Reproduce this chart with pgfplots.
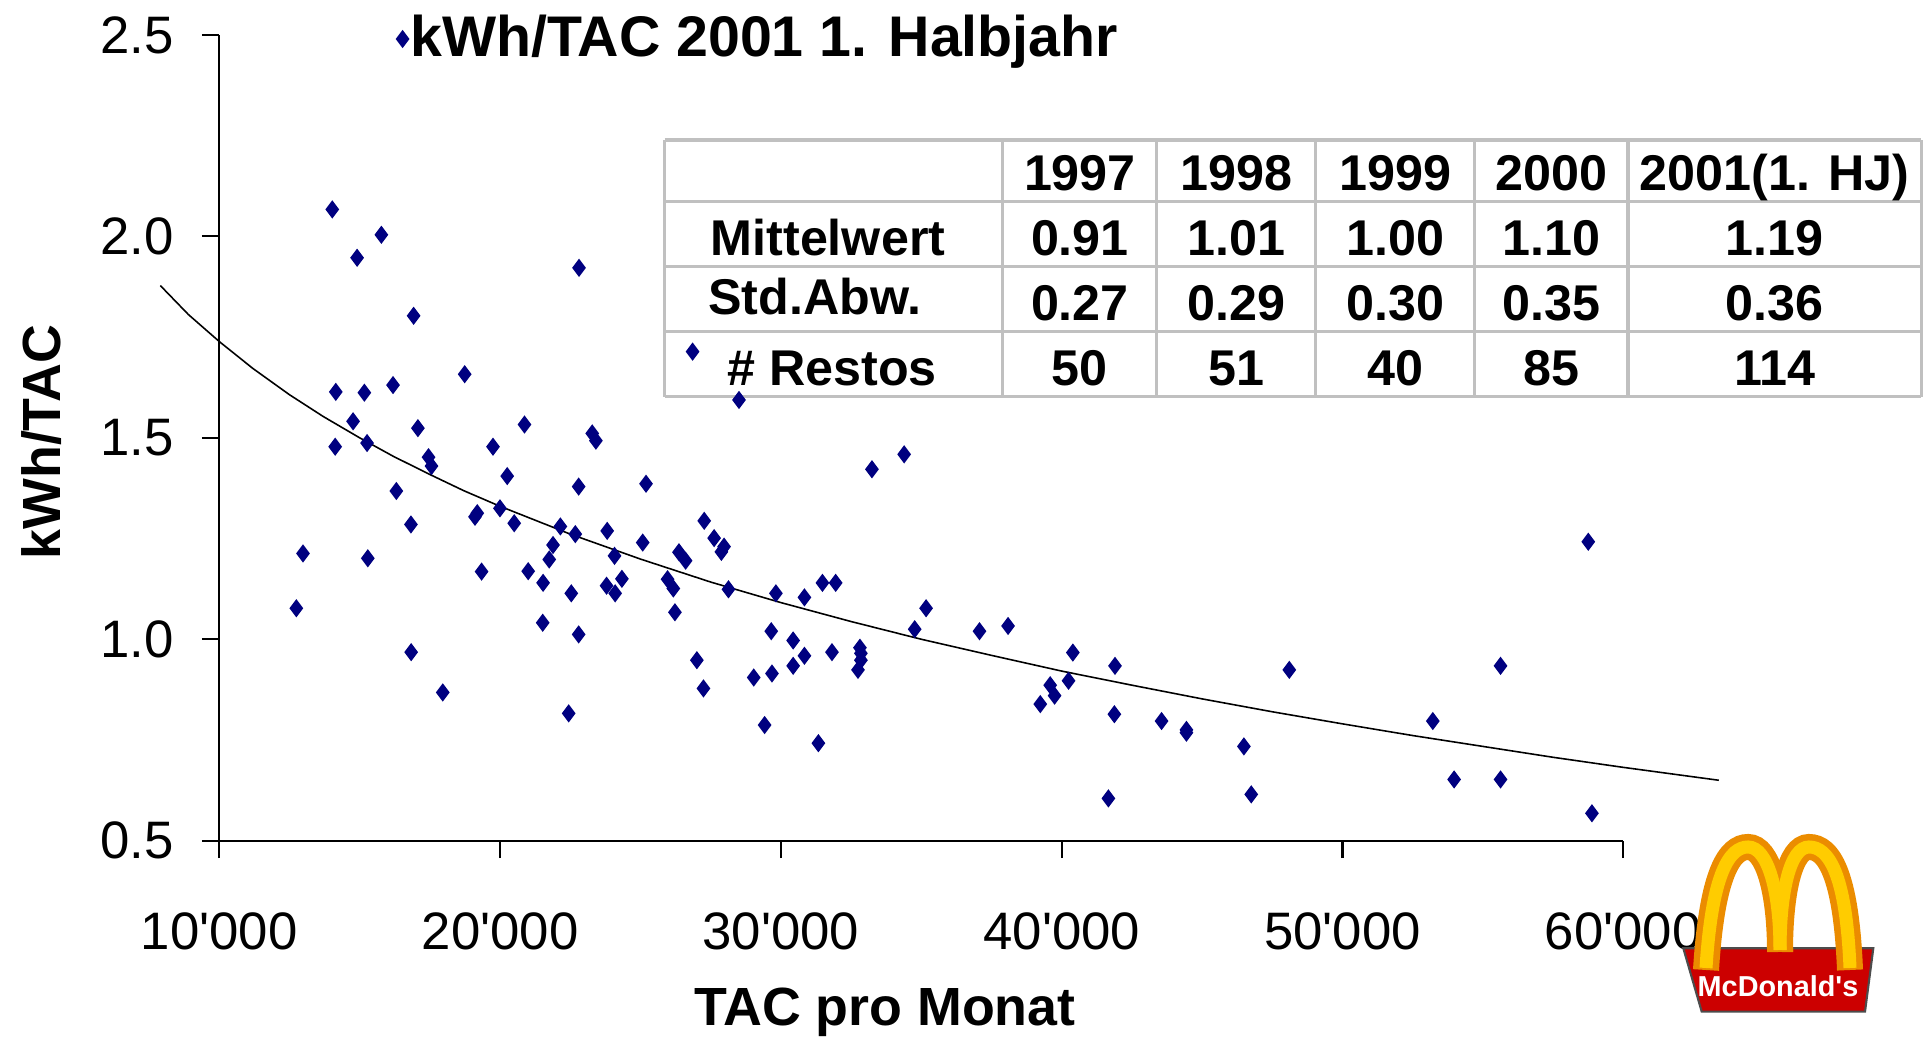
\documentclass[border=0pt]{standalone}
\usepackage{fontspec}
\setmainfont{Liberation Sans}[Ligatures=TeXOff]
\usepackage{pgfplots}
\pgfplotsset{compat=1.18}
\definecolor{navy}{RGB}{0,0,128}
\definecolor{tgray}{RGB}{192,192,192}
\definecolor{mcred}{RGB}{204,0,0}
\definecolor{mcyellow}{RGB}{255,204,0}
\definecolor{mcorange}{RGB}{235,140,0}
\newcommand\tb{\fontsize{14.3}{17}\selectfont\bfseries}
\pgfplotstableread{
x y
16527 2.49
14023 2.067
15772 2.004
14908 1.947
22810 1.922
16920 1.803
26855 1.714
18739 1.658
28508 1.594
16187 1.631
14149 1.614
15166 1.612
20868 1.533
14764 1.541
17072 1.524
23281 1.511
23412 1.493
34389 1.459
33242 1.422
14127 1.478
15262 1.487
19747 1.478
17452 1.452
17557 1.430
20253 1.405
22797 1.379
25197 1.386
16305 1.368
19188 1.313
19106 1.304
19996 1.325
27269 1.294
16824 1.285
20502 1.288
22147 1.280
22679 1.261
23813 1.269
27622 1.251
21885 1.234
25079 1.240
27976 1.230
27880 1.217
12980 1.213
15288 1.201
21750 1.198
24075 1.207
26370 1.216
26606 1.195
19341 1.168
21000 1.169
21531 1.140
22535 1.114
23791 1.133
24337 1.150
24097 1.114
25964 1.149
26169 1.126
26226 1.067
28133 1.124
29821 1.114
30838 1.104
31479 1.140
31950 1.140
35170 1.077
12744 1.077
21518 1.041
22797 1.012
29656 1.020
34764 1.025
37073 1.020
38089 1.033
30436 0.997
16832 0.968
27007 0.948
31819 0.968
32814 0.979
32849 0.965
32849 0.948
32745 0.924
30838 0.959
30436 0.934
29682 0.915
29032 0.905
40397 0.967
41898 0.934
48106 0.924
55628 0.934
40244 0.897
39590 0.886
39747 0.860
39237 0.839
27243 0.878
17958 0.868
22443 0.816
41876 0.814
43556 0.797
44442 0.775
44442 0.768
53216 0.797
29420 0.787
31335 0.742
46488 0.734
53975 0.652
55628 0.652
46750 0.615
41663 0.605
58883 0.568
58752 1.242
}\pts
\pgfplotstableread{
x y
7900 1.878
8900 1.806
10000 1.739
11200 1.672
12500 1.607
13700 1.553
15000 1.500
16200 1.454
17500 1.409
18700 1.369
20000 1.330
22500 1.261
25000 1.199
27500 1.142
30000 1.091
32500 1.044
35000 1.000
37500 0.960
40000 0.921
42500 0.886
45000 0.852
47500 0.820
50000 0.790
52500 0.761
55000 0.734
57500 0.707
60000 0.682
63400 0.650
}\trend
\begin{document}
\begin{tikzpicture}
\useasboundingbox (0,0) rectangle (192.8mm,103.7mm);
% statistics table (behind the data)
\fill[white] (66.47mm,64.03mm) rectangle (192.14mm,89.7mm);
\foreach \x in {66.47,100.29,115.69,131.59,147.48,162.80,192.14}
  \draw[tgray, line width=0.9pt] (\x mm,64.03mm) -- (\x mm,89.7mm);
\foreach \y in {89.7,83.53,77.03,70.53,64.03}
  \draw[tgray, line width=0.9pt] (66.47mm,\y mm) -- (192.14mm,\y mm);
\foreach \t/\x in {1997/107.99,1998/123.64,1999/139.54,2000/155.14,2001(1. HJ)/177.47}
  \node[font=\tb, anchor=base, inner sep=0pt] at (\x mm,84.6mm) {\t};
\node[font=\tb, anchor=base, inner sep=0pt] at (82.8mm,78.1mm) {Mittelwert};
\node[font=\tb, anchor=base, inner sep=0pt] at (81.5mm,72.2mm) {Std.Abw.};
\node[font=\tb, anchor=base, inner sep=0pt] at (83.2mm,65.1mm) {\# Restos};
\foreach \t/\x in {0.91/107.99,1.01/123.64,1.00/139.54,1.10/155.14,1.19/177.47}
  \node[font=\tb, anchor=base, inner sep=0pt] at (\x mm,78.1mm) {\t};
\foreach \t/\x in {0.27/107.99,0.29/123.64,0.30/139.54,0.35/155.14,0.36/177.47}
  \node[font=\tb, anchor=base, inner sep=0pt] at (\x mm,71.6mm) {\t};
\foreach \t/\x in {50/107.99,51/123.64,40/139.54,85/155.14,114/177.47}
  \node[font=\tb, anchor=base, inner sep=0pt] at (\x mm,65.1mm) {\t};

\begin{axis}[
  at={(21.93mm,19.63mm)}, anchor=south west,
  scale only axis, width=140.4mm, height=80.57mm,
  xmin=10000, xmax=60000, ymin=0.5, ymax=2.5,
  axis x line=bottom, axis y line=left,
  axis line style={-, line width=0.6pt},
  tick align=outside, major tick length=1.75mm,
  tick style={line width=0.6pt, black},
  scaled x ticks=false,
  xtick={10000,20000,30000,40000,50000,60000},
  xticklabels={10'000,20'000,30'000,40'000,50'000,60'000},
  ytick={0.5,1,1.5,2,2.5},
  yticklabels={0.5,1.0,1.5,2.0,2.5},
  ticklabel style={font=\fontsize{15}{18}\selectfont},
  xticklabel style={yshift=-4.2mm},
  yticklabel style={xshift=-1.6mm},
  clip=false,
]
\addplot[black, line width=0.45pt] table[x=x,y=y] {\trend};
\addplot[only marks, mark=diamond*, mark size=0.8mm, navy, mark options={fill=navy, draw=navy}] table[x=x,y=y] {\pts};
\end{axis}

% titles
\node[font=\fontsize{16.3}{19}\selectfont\bfseries, anchor=base west, inner sep=0pt] at (40.95mm,98.0mm) {kWh/TAC 2001 1. Halbjahr};
\node[font=\fontsize{15.3}{18}\selectfont\bfseries, anchor=base, inner sep=0pt] at (88.5mm,1.1mm) {TAC pro Monat};
\node[font=\fontsize{15.3}{18}\selectfont\bfseries, anchor=base, rotate=90, inner sep=0pt] at (6.0mm,59.5mm) {kWh/TAC};

% logo
\fill[mcred, draw=black!70, line width=0.6pt] (168.33mm,8.87mm) -- (187.33mm,8.87mm) -- (186.5mm,2.53mm) -- (170.17mm,2.53mm) -- cycle;
\draw[mcorange, line width=2.6mm, line cap=butt] (170.6mm,6.7mm) .. controls (171.2mm,16.5mm) and (173.0mm,19.0mm) .. (174.8mm,19.0mm) .. controls (176.8mm,19.0mm) and (178.0mm,14.5mm) .. (178.0mm,8.5mm);
\draw[mcorange, line width=2.6mm, line cap=butt] (178.0mm,8.5mm) .. controls (178.0mm,14.5mm) and (179.0mm,19.0mm) .. (180.9mm,19.0mm) .. controls (182.8mm,19.0mm) and (184.6mm,16.5mm) .. (185.0mm,6.7mm);
\draw[mcyellow, line width=1.3mm, line cap=butt] (170.6mm,6.9mm) .. controls (171.2mm,16.5mm) and (173.0mm,19.0mm) .. (174.8mm,19.0mm) .. controls (176.8mm,19.0mm) and (178.0mm,14.5mm) .. (178.0mm,8.7mm);
\draw[mcyellow, line width=1.3mm, line cap=butt] (178.0mm,8.7mm) .. controls (178.0mm,14.5mm) and (179.0mm,19.0mm) .. (180.9mm,19.0mm) .. controls (182.8mm,19.0mm) and (184.6mm,16.5mm) .. (185.0mm,6.9mm);
\node[font=\fontsize{8.2}{9}\selectfont\bfseries, text=white, inner sep=0pt] at (177.8mm,5.1mm) {McDonald's};
\end{tikzpicture}
\end{document}
